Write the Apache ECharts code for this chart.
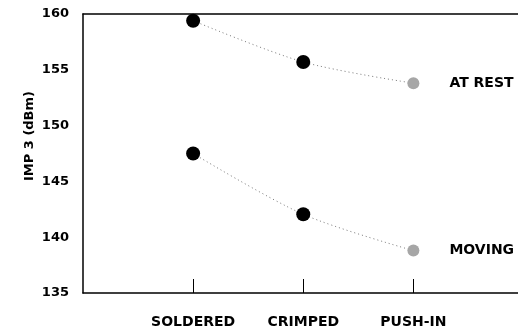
<!DOCTYPE html>
<html>
<head>
<meta charset="utf-8">
<script src="https://cdn.jsdelivr.net/npm/echarts@6/dist/echarts.min.js"></script>
<style>html,body{margin:0;padding:0;background:#fff;}#c{width:518px;height:332px;}</style>
</head>
<body>
<div id="c"></div>
<script>
var categories = ['SOLDERED', 'CRIMPED', 'PUSH-IN'];
var categoryPos = [1, 2, 3];
var atRest = [159.4, 155.7, 153.8];
var moving = [147.5, 142.05, 138.8];
var yTicks = [135, 140, 145, 150, 155, 160];
var seriesNames = ['AT REST', 'MOVING'];
var yTitle = 'IMP 3 (dBm)';

var FONT = 'DejaVu Sans';
function build(vals, name) {
  return vals.map(function (v, i) {
    var isLast = i === vals.length - 1;
    return {
      value: [categoryPos[i], v],
      symbolSize: isLast ? 12 : 14,
      itemStyle: { color: isLast ? '#a6a6a6' : '#000' },
      label: isLast ? {
        show: true, position: 'right', distance: 30,
        formatter: name, color: '#000', fontFamily: FONT, fontWeight: 'bold', fontSize: 14
      } : { show: false }
    };
  });
}

var chart = echarts.init(document.getElementById('c'), null, { renderer: 'canvas' });
chart.setOption({
  animation: false,
  backgroundColor: '#fff',
  grid: { left: 83, top: 14, right: 0, bottom: 39, containLabel: false },
  xAxis: [{
    type: 'value', min: 0, max: 3.95, position: 'bottom',
    axisLine: { lineStyle: { color: '#000', width: 1.5 } },
    axisTick: { show: true, inside: true, length: 14, customValues: categoryPos, lineStyle: { color: '#000', width: 1 } },
    axisLabel: {
      customValues: categoryPos, margin: 22,
      formatter: function (v) { return categories[Math.round(v) - 1] || ''; },
      color: '#000', fontFamily: FONT, fontWeight: 'bold', fontSize: 14
    },
    splitLine: { show: false }
  }, {
    type: 'value', min: 0, max: 3.95, position: 'top',
    axisLine: { show: true, onZero: false, lineStyle: { color: '#000', width: 1.5 } },
    axisTick: { show: false }, axisLabel: { show: false }, splitLine: { show: false }
  }],
  yAxis: {
    type: 'value', min: yTicks[0], max: yTicks[yTicks.length - 1], interval: 5,
    axisLine: { show: true, lineStyle: { color: '#000', width: 1.5 } },
    axisTick: { show: false },
    axisLabel: { margin: 14, color: '#000', fontFamily: FONT, fontWeight: 'bold', fontSize: 13 },
    splitLine: { show: false }
  },
  graphic: [{
    type: 'text', x: 30, y: 136, rotation: Math.PI / 2,
    style: { text: yTitle, textAlign: 'center', textVerticalAlign: 'middle', fill: '#000',
      font: 'bold 13px "DejaVu Sans"' }
  }],
  series: [{
    name: seriesNames[0], type: 'line', smooth: 0.3, symbol: 'circle',
    data: build(atRest, seriesNames[0]),
    lineStyle: { color: '#777', width: 1, type: [1, 3] }
  }, {
    name: seriesNames[1], type: 'line', smooth: 0.3, symbol: 'circle',
    data: build(moving, seriesNames[1]),
    lineStyle: { color: '#777', width: 1, type: [1, 3] }
  }]
});
</script>
</body>
</html>
